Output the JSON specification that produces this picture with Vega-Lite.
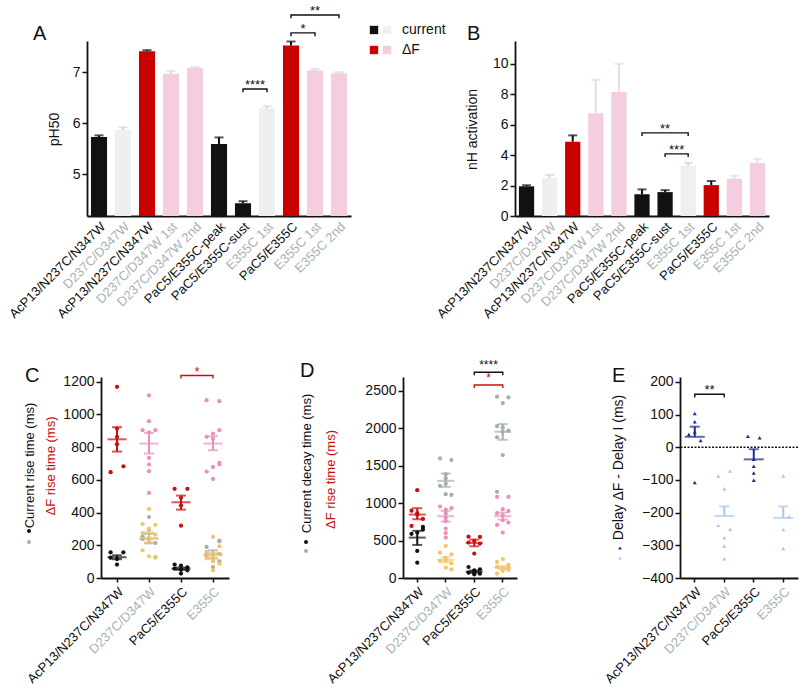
{
"$schema": "https://vega.github.io/schema/vega-lite/v6.json",
"autosize": {"type": "pad"},
"padding": {"left": 7, "top": 4, "right": 0, "bottom": 0},
"background": "white",
"config": {
  "font": "Liberation Sans",
  "view": {"stroke": null},
  "axis": {"grid": false, "domainColor": "#111111", "domainWidth": 1.8, "tickColor": "#111111", "tickWidth": 1.5, "tickSize": 5, "labelFontSize": 14, "labelColor": "#111111", "labelPadding": 2, "titleFontWeight": "normal", "titleFontSize": 14, "titleColor": "#111111"},
  "axisY": {"titleAngle": 270, "titleAlign": "center", "titleBaseline": "middle", "format": "d", "labelOverlap": false, "tickCount": 20},
  "title": {"fontSize": 20, "fontWeight": "normal", "anchor": "start", "frame": "group", "baseline": "alphabetic", "color": "#111111"},
  "legend": {"labelFontSize": 14, "labelColor": "#111111"}
},
"bounds": "flush",
"spacing": 336,
"resolve": {"scale": {"color": "independent", "fill": "independent", "stroke": "independent"}, "legend": {"color": "independent", "fill": "independent", "stroke": "independent"}},
"vconcat": [
{
"hconcat": [
{
  "width": 264, "height": 175,
  "title": {"text": "A", "dx": -54, "offset": 0, "dy": 39},
  "data": {"values": [
    {"c":"aAcP13/N237C/N347W","v":5.73,"e":5.76,"g":"cur1"},
    {"c":"bD237C/D347W","v":5.87,"e":5.92,"g":"cur2"},
    {"c":"cAcP13/N237C/N347W","v":7.41,"e":7.43,"g":"df1"},
    {"c":"dD237C/D347W 1st","v":6.97,"e":7.02,"g":"df2"},
    {"c":"eD237C/D347W 2nd","v":7.08,"e":7.10,"g":"df2"},
    {"c":"fPaC5/E355C-peak","v":5.59,"e":5.72,"g":"cur1"},
    {"c":"gPaC5/E355C-sust","v":4.43,"e":4.47,"g":"cur1"},
    {"c":"hE355C 1st","v":6.29,"e":6.33,"g":"cur2"},
    {"c":"iPaC5/E355C","v":7.52,"e":7.60,"g":"df1"},
    {"c":"jE355C 1st","v":7.03,"e":7.06,"g":"df2"},
    {"c":"kE355C 2nd","v":6.98,"e":7.00,"g":"df2"}
  ]},
  "layer": [
    {"mark": {"type": "bar", "width": {"band": 0.67}},
     "encoding": {
       "x": {"field": "c", "type": "nominal", "scale": {"paddingInner": 0, "paddingOuter": 0},
             "axis": {"title": null, "labelAngle": -45, "labelFontSize": 13, "ticks": false, "labelPadding": 4, "labelExpr": "substring(datum.value,1)",
                      "labelColor": {"condition": {"test": "indexof(datum.value,'AcP13')>=0 || indexof(datum.value,'PaC5')>=0", "value": "#111111"}, "value": "#a8b3b3"}}},
       "y": {"field": "v", "type": "quantitative", "scale": {"domain": [4.18, 7.61], "nice": false, "zero": false},
             "axis": {"values": [5, 6, 7], "tickCount": 20, "labelOverlap": false, "title": "pH50", "titleX": -33, "titleY": 88}},
       "y2": {"datum": 4.18},
       "fill": {"field": "g", "type": "nominal",
                "scale": {"domain": ["cur1","cur2","df1","df2"], "range": ["#111111","#eef0ef","#c80000","#f4cde0"]},
                "legend": {"values": ["cur1","df1"], "labelExpr": "datum.value == 'cur1' ? 'current' : 'ΔF'", "orient": "none", "legendX": 280, "legendY": -18, "title": null, "symbolType": "square", "symbolSize": 70, "labelFontSize": 14, "labelOffset": 21, "rowPadding": 6, "padding": 0, "symbolStrokeWidth": 0}}
     }},
    {"mark": {"type": "rule", "strokeWidth": 2},
     "encoding": {
       "x": {"field": "c", "type": "nominal"},
       "y": {"field": "v", "type": "quantitative"},
       "y2": {"field": "e"},
       "color": {"field": "g", "type": "nominal", "scale": {"domain": ["cur1","cur2","df1","df2"], "range": ["#111111","#d4d6d6","#111111","#dcdcdc"]}, "legend": null}
     }},
    {"mark": {"type": "tick", "size": 9, "thickness": 2},
     "encoding": {
       "x": {"field": "c", "type": "nominal"},
       "y": {"field": "e", "type": "quantitative"},
       "color": {"field": "g", "type": "nominal", "legend": null}
     }},
    {"data": {"values": [
       {"b":1,"o":1,"c":"gPaC5/E355C-sust","y":6.605},{"b":1,"o":2,"c":"gPaC5/E355C-sust","y":6.67},{"b":1,"o":3,"c":"hE355C 1st","y":6.67},{"b":1,"o":4,"c":"hE355C 1st","y":6.605},
       {"b":2,"o":1,"c":"iPaC5/E355C","y":7.705},{"b":2,"o":2,"c":"iPaC5/E355C","y":7.77},{"b":2,"o":3,"c":"jE355C 1st","y":7.77},{"b":2,"o":4,"c":"jE355C 1st","y":7.705},
       {"b":3,"o":1,"c":"iPaC5/E355C","y":8.055},{"b":3,"o":2,"c":"iPaC5/E355C","y":8.12},{"b":3,"o":3,"c":"kE355C 2nd","y":8.12},{"b":3,"o":4,"c":"kE355C 2nd","y":8.055}
     ]},
     "mark": {"type": "line", "color": "#111111", "strokeWidth": 1.4},
     "encoding": {
       "x": {"field": "c", "type": "nominal"},
       "y": {"field": "y", "type": "quantitative"},
       "order": {"field": "o", "type": "quantitative"},
       "detail": {"field": "b", "type": "nominal"}
     }},
    {"data": {"values": [{"c":"gPaC5/E355C-sust","y":6.67,"t":"****"},{"c":"iPaC5/E355C","y":7.77,"t":"*"}]},
     "mark": {"type": "text", "fontSize": 13, "baseline": "alphabetic", "color": "#111111"},
     "encoding": {"x": {"field": "c", "type": "nominal", "bandPosition": 1}, "y": {"field": "y", "type": "quantitative"}, "text": {"field": "t"}}},
    {"data": {"values": [{"c":"jE355C 1st","y":8.12,"t":"**"}]},
     "mark": {"type": "text", "fontSize": 13, "baseline": "alphabetic", "color": "#111111"},
     "encoding": {"x": {"field": "c", "type": "nominal"}, "y": {"field": "y", "type": "quantitative"}, "text": {"field": "t"}}}
  ]
},
{
  "width": 254, "height": 175,
  "title": {"text": "B", "dx": -48, "offset": 1, "dy": 22},
  "data": {"values": [
    {"c":"aAcP13/N237C/N347W","v":1.95,"e":2.02,"g":"cur1"},
    {"c":"bD237C/D347W","v":2.5,"e":2.7,"g":"cur2"},
    {"c":"cAcP13/N237C/N347W","v":4.88,"e":5.3,"g":"df1"},
    {"c":"dD237C/D347W 1st","v":6.75,"e":8.95,"g":"df2"},
    {"c":"eD237C/D347W 2nd","v":8.15,"e":10.0,"g":"df2"},
    {"c":"fPaC5/E355C-peak","v":1.43,"e":1.75,"g":"cur1"},
    {"c":"gPaC5/E355C-sust","v":1.57,"e":1.7,"g":"cur1"},
    {"c":"hE355C 1st","v":3.3,"e":3.5,"g":"cur2"},
    {"c":"iPaC5/E355C","v":2.03,"e":2.3,"g":"df1"},
    {"c":"jE355C 1st","v":2.45,"e":2.65,"g":"df2"},
    {"c":"kE355C 2nd","v":3.49,"e":3.75,"g":"df2"}
  ]},
  "layer": [
    {"mark": {"type": "bar", "width": {"band": 0.66}},
     "encoding": {
       "x": {"field": "c", "type": "nominal", "scale": {"paddingInner": 0, "paddingOuter": 0},
             "axis": {"title": null, "labelAngle": -45, "labelFontSize": 13, "ticks": false, "labelPadding": 4, "labelExpr": "substring(datum.value,1)",
                      "labelColor": {"condition": {"test": "indexof(datum.value,'AcP13')>=0 || indexof(datum.value,'PaC5')>=0", "value": "#111111"}, "value": "#a8b3b3"}}},
       "y": {"field": "v", "type": "quantitative", "scale": {"domain": [0, 11.5], "nice": false},
             "axis": {"values": [0, 2, 4, 6, 8, 10], "tickCount": 20, "labelOverlap": false, "title": "nH activation", "titleX": -43, "titleY": 88}},
       "fill": {"field": "g", "type": "nominal",
                "scale": {"domain": ["cur1","cur2","df1","df2"], "range": ["#111111","#eef0ef","#c80000","#f4cde0"]},
                "legend": {"values": ["cur2","df2"], "labelExpr": "''", "orient": "none", "legendX": -135, "legendY": -18, "title": null, "symbolType": "square", "symbolSize": 70, "labelFontSize": 14, "rowPadding": 6, "padding": 0, "symbolStrokeWidth": 0}}
     }},
    {"mark": {"type": "rule", "strokeWidth": 2},
     "encoding": {
       "x": {"field": "c", "type": "nominal"},
       "y": {"field": "v", "type": "quantitative"},
       "y2": {"field": "e"},
       "color": {"field": "g", "type": "nominal", "scale": {"domain": ["cur1","cur2","df1","df2"], "range": ["#111111","#d4d6d6","#111111","#e2dde0"]}, "legend": null}
     }},
    {"mark": {"type": "tick", "size": 9, "thickness": 2},
     "encoding": {
       "x": {"field": "c", "type": "nominal"},
       "y": {"field": "e", "type": "quantitative"},
       "color": {"field": "g", "type": "nominal", "legend": null}
     }},
    {"data": {"values": [
       {"b":1,"o":1,"c":"fPaC5/E355C-peak","y":5.26},{"b":1,"o":2,"c":"fPaC5/E355C-peak","y":5.46},{"b":1,"o":3,"c":"hE355C 1st","y":5.46},{"b":1,"o":4,"c":"hE355C 1st","y":5.26},
       {"b":2,"o":1,"c":"gPaC5/E355C-sust","y":3.88},{"b":2,"o":2,"c":"gPaC5/E355C-sust","y":4.08},{"b":2,"o":3,"c":"hE355C 1st","y":4.08},{"b":2,"o":4,"c":"hE355C 1st","y":3.88}
     ]},
     "mark": {"type": "line", "color": "#111111", "strokeWidth": 1.4},
     "encoding": {
       "x": {"field": "c", "type": "nominal"},
       "y": {"field": "y", "type": "quantitative"},
       "order": {"field": "o", "type": "quantitative"},
       "detail": {"field": "b", "type": "nominal"}
     }},
    {"data": {"values": [{"c":"gPaC5/E355C-sust","y":5.46,"t":"**"}]},
     "mark": {"type": "text", "fontSize": 13, "baseline": "alphabetic", "color": "#111111"},
     "encoding": {"x": {"field": "c", "type": "nominal"}, "y": {"field": "y", "type": "quantitative"}, "text": {"field": "t"}}},
    {"data": {"values": [{"c":"gPaC5/E355C-sust","y":4.08,"t":"***"}]},
     "mark": {"type": "text", "fontSize": 13, "baseline": "alphabetic", "color": "#111111"},
     "encoding": {"x": {"field": "c", "type": "nominal", "bandPosition": 1}, "y": {"field": "y", "type": "quantitative"}, "text": {"field": "t"}}}
  ]
}
],
"spacing": 164, "bounds": "flush",
"resolve": {"scale": {"color": "independent", "fill": "independent"}, "legend": {"color": "independent", "fill": "independent"}}
},
{
"hconcat": [
{
  "width": 1, "height": 1,
  "data": {"values": [{}]},
  "mark": {"type": "point", "opacity": 0},
  "encoding": {}
},
{
"hconcat": [
{
  "width": 128, "height": 201,
  "title": {"text": "C", "dx": -76, "offset": -3, "dy": 17},
  "data": {"values": [
    {"c":"AcP13/N237C/N347W","g":"k","v":157,"s":"L"},{"c":"AcP13/N237C/N347W","g":"k","v":157,"s":"R"},{"c":"AcP13/N237C/N347W","g":"k","v":124,"s":"L"},{"c":"AcP13/N237C/N347W","g":"k","v":116,"s":"M"},{"c":"AcP13/N237C/N347W","g":"k","v":82,"s":"M"},
    {"c":"AcP13/N237C/N347W","g":"r","v":1169,"s":"M"},{"c":"AcP13/N237C/N347W","g":"r","v":914,"s":"M"},{"c":"AcP13/N237C/N347W","g":"r","v":863,"s":"M"},{"c":"AcP13/N237C/N347W","g":"r","v":818,"s":"M"},{"c":"AcP13/N237C/N347W","g":"r","v":683,"s":"R"},{"c":"AcP13/N237C/N347W","g":"r","v":647,"s":"L"},
    {"c":"D237C/D347W","g":"gr","v":373,"s":"M"},{"c":"D237C/D347W","g":"gr","v":296,"s":"M"},{"c":"D237C/D347W","g":"gr","v":255,"s":"L"},{"c":"D237C/D347W","g":"gr","v":239,"s":"L"},{"c":"D237C/D347W","g":"gr","v":214,"s":"R"},{"c":"D237C/D347W","g":"gr","v":128,"s":"R"},
    {"c":"D237C/D347W","g":"o","v":422,"s":"M"},{"c":"D237C/D347W","g":"o","v":330,"s":"L"},{"c":"D237C/D347W","g":"o","v":325,"s":"R"},{"c":"D237C/D347W","g":"o","v":302,"s":"M"},{"c":"D237C/D347W","g":"o","v":275,"s":"L"},{"c":"D237C/D347W","g":"o","v":265,"s":"R"},{"c":"D237C/D347W","g":"o","v":245,"s":"M"},{"c":"D237C/D347W","g":"o","v":224,"s":"M"},{"c":"D237C/D347W","g":"o","v":169,"s":"L"},{"c":"D237C/D347W","g":"o","v":133,"s":"M"},{"c":"D237C/D347W","g":"o","v":124,"s":"R"},
    {"c":"D237C/D347W","g":"p","v":1116,"s":"M"},{"c":"D237C/D347W","g":"p","v":959,"s":"M"},{"c":"D237C/D347W","g":"p","v":904,"s":"L"},{"c":"D237C/D347W","g":"p","v":904,"s":"R"},{"c":"D237C/D347W","g":"p","v":890,"s":"M"},{"c":"D237C/D347W","g":"p","v":734,"s":"M"},{"c":"D237C/D347W","g":"p","v":694,"s":"M"},{"c":"D237C/D347W","g":"p","v":653,"s":"M"},{"c":"D237C/D347W","g":"p","v":520,"s":"M"},
    {"c":"PaC5/E355C","g":"r","v":545,"s":"L"},{"c":"PaC5/E355C","g":"r","v":545,"s":"R"},{"c":"PaC5/E355C","g":"r","v":490,"s":"M"},{"c":"PaC5/E355C","g":"r","v":443,"s":"M"},{"c":"PaC5/E355C","g":"r","v":320,"s":"M"},
    {"c":"PaC5/E355C","g":"k","v":82,"s":"L"},{"c":"PaC5/E355C","g":"k","v":75,"s":"M"},{"c":"PaC5/E355C","g":"k","v":65,"s":"R"},{"c":"PaC5/E355C","g":"k","v":57,"s":"L"},{"c":"PaC5/E355C","g":"k","v":50,"s":"M"},{"c":"PaC5/E355C","g":"k","v":47,"s":"R"},{"c":"PaC5/E355C","g":"k","v":27,"s":"M"},
    {"c":"E355C","g":"gr","v":228,"s":"R"},{"c":"E355C","g":"gr","v":224,"s":"R"},{"c":"E355C","g":"gr","v":190,"s":"L"},{"c":"E355C","g":"gr","v":133,"s":"L"},{"c":"E355C","g":"gr","v":102,"s":"R"},{"c":"E355C","g":"gr","v":67,"s":"M"},
    {"c":"E355C","g":"o","v":251,"s":"M"},{"c":"E355C","g":"o","v":194,"s":"R"},{"c":"E355C","g":"o","v":159,"s":"L"},{"c":"E355C","g":"o","v":147,"s":"R"},{"c":"E355C","g":"o","v":133,"s":"M"},{"c":"E355C","g":"o","v":120,"s":"L"},{"c":"E355C","g":"o","v":112,"s":"M"},{"c":"E355C","g":"o","v":102,"s":"M"},{"c":"E355C","g":"o","v":88,"s":"R"},{"c":"E355C","g":"o","v":47,"s":"M"},
    {"c":"E355C","g":"p","v":1087,"s":"L"},{"c":"E355C","g":"p","v":1081,"s":"R"},{"c":"E355C","g":"p","v":904,"s":"R"},{"c":"E355C","g":"p","v":883,"s":"M"},{"c":"E355C","g":"p","v":863,"s":"L"},{"c":"E355C","g":"p","v":851,"s":"M"},{"c":"E355C","g":"p","v":704,"s":"R"},{"c":"E355C","g":"p","v":694,"s":"R"},{"c":"E355C","g":"p","v":679,"s":"M"},{"c":"E355C","g":"p","v":651,"s":"L"},{"c":"E355C","g":"p","v":606,"s":"M"}
  ]},
  "layer": [
      {"transform": [{"filter": "datum.s == 'M'"}],
       "mark": {"type": "point", "filled": true, "size": 18, "opacity": 1},
       "encoding": {
         "x": {"field": "c", "type": "nominal", "sort": ["AcP13/N237C/N347W","D237C/D347W","PaC5/E355C","E355C"], "scale": {"paddingInner": 0, "paddingOuter": 0},
               "axis": {"labelAngle": -45, "labelFontSize": 13, "ticks": true, "tickSize": 4, "labelPadding": 3,
                        "title": "ΔF rise time (ms)", "titleColor": "#c80f0f", "titleFontSize": 13, "titleAngle": 270, "titleAlign": "center", "titleBaseline": "middle", "titleX": -51, "titleY": -112.5,
                        "labelColor": {"condition": {"test": "indexof(datum.value,'AcP13')>=0 || indexof(datum.value,'PaC5')>=0", "value": "#111111"}, "value": "#a8b3b3"}}},
         "y": {"field": "v", "type": "quantitative", "scale": {"domain": [0, 1229], "nice": false},
               "axis": {"values": [0,200,400,600,800,1000,1200], "tickCount": 20, "labelOverlap": false, "title": "Current rise time (ms)", "titleFontSize": 13, "titleX": -72, "titleY": 88}},
         "color": {"field": "g", "type": "nominal", "scale": {"domain": ["k","gr","r","p","o"], "range": ["#111111","#a4afad","#c80f0f","#e891bd","#f3c56b"]},
                   "legend": {"values": ["k","gr"], "labelExpr": "''", "orient": "none", "legendX": -74, "legendY": 152, "title": null, "symbolType": "circle", "symbolSize": 16, "labelFontSize": 4, "rowPadding": 7, "padding": 0, "symbolStrokeWidth": 0}}
       }},
      {"transform": [{"filter": "datum.s == 'L'"}],
       "mark": {"type": "point", "filled": true, "size": 18, "opacity": 1},
       "encoding": {"x": {"field": "c", "type": "nominal", "bandPosition": 0.3, "sort": ["AcP13/N237C/N347W","D237C/D347W","PaC5/E355C","E355C"]}, "y": {"field": "v", "type": "quantitative"}, "color": {"field": "g", "type": "nominal"}}},
      {"transform": [{"filter": "datum.s == 'R'"}],
       "mark": {"type": "point", "filled": true, "size": 18, "opacity": 1},
       "encoding": {"x": {"field": "c", "type": "nominal", "bandPosition": 0.7, "sort": ["AcP13/N237C/N347W","D237C/D347W","PaC5/E355C","E355C"]}, "y": {"field": "v", "type": "quantitative"}, "color": {"field": "g", "type": "nominal"}}},
      {"data": {"values": [
         {"c":"AcP13/N237C/N347W","g":"k","m":127,"lo":115,"hi":139},
         {"c":"AcP13/N237C/N347W","g":"r","m":848,"lo":773,"hi":922},
         {"c":"D237C/D347W","g":"gr","m":240,"lo":212,"hi":270},
         {"c":"D237C/D347W","g":"o","m":245,"lo":218,"hi":280},
         {"c":"D237C/D347W","g":"p","m":822,"lo":761,"hi":887},
         {"c":"PaC5/E355C","g":"k","m":57,"lo":50,"hi":64},
         {"c":"PaC5/E355C","g":"r","m":463,"lo":418,"hi":504},
         {"c":"E355C","g":"gr","m":145,"lo":120,"hi":170},
         {"c":"E355C","g":"o","m":139,"lo":120,"hi":157},
         {"c":"E355C","g":"p","m":822,"lo":781,"hi":867}
       ]},
       "mark": {"type": "rule", "strokeWidth": 2},
       "encoding": {"x": {"field": "c", "type": "nominal", "sort": ["AcP13/N237C/N347W","D237C/D347W","PaC5/E355C","E355C"]}, "y": {"field": "lo", "type": "quantitative"}, "y2": {"field": "hi"},
                    "stroke": {"field": "g", "type": "nominal", "scale": {"domain": ["k","gr","r","p","o"], "range": ["#111111","#a4afad","#c80f0f","#e891bd","#f3c56b"]},
                               "legend": {"values": ["r","p","o"], "labelExpr": "''", "orient": "none", "legendX": -53.5, "legendY": 138.5, "title": null, "symbolType": "circle", "symbolSize": 5, "symbolStrokeWidth": 3, "labelFontSize": 4, "rowPadding": 6, "padding": 0}}}},
      {"data": {"values": [
         {"c":"AcP13/N237C/N347W","g":"k","m":127,"lo":115,"hi":139},
         {"c":"AcP13/N237C/N347W","g":"r","m":848,"lo":773,"hi":922},
         {"c":"D237C/D347W","g":"gr","m":240,"lo":212,"hi":270},
         {"c":"D237C/D347W","g":"o","m":245,"lo":218,"hi":280},
         {"c":"D237C/D347W","g":"p","m":822,"lo":761,"hi":887},
         {"c":"PaC5/E355C","g":"k","m":57,"lo":50,"hi":64},
         {"c":"PaC5/E355C","g":"r","m":463,"lo":418,"hi":504},
         {"c":"E355C","g":"gr","m":145,"lo":120,"hi":170},
         {"c":"E355C","g":"o","m":139,"lo":120,"hi":157},
         {"c":"E355C","g":"p","m":822,"lo":781,"hi":867}
       ]},
       "mark": {"type": "tick", "size": 10, "thickness": 2},
       "encoding": {"x": {"field": "c", "type": "nominal", "sort": ["AcP13/N237C/N347W","D237C/D347W","PaC5/E355C","E355C"]}, "y": {"field": "lo", "type": "quantitative"}, "color": {"field": "g", "type": "nominal"}}},
      {"data": {"values": [
         {"c":"AcP13/N237C/N347W","g":"k","m":127,"lo":115,"hi":139},
         {"c":"AcP13/N237C/N347W","g":"r","m":848,"lo":773,"hi":922},
         {"c":"D237C/D347W","g":"gr","m":240,"lo":212,"hi":270},
         {"c":"D237C/D347W","g":"o","m":245,"lo":218,"hi":280},
         {"c":"D237C/D347W","g":"p","m":822,"lo":761,"hi":887},
         {"c":"PaC5/E355C","g":"k","m":57,"lo":50,"hi":64},
         {"c":"PaC5/E355C","g":"r","m":463,"lo":418,"hi":504},
         {"c":"E355C","g":"gr","m":145,"lo":120,"hi":170},
         {"c":"E355C","g":"o","m":139,"lo":120,"hi":157},
         {"c":"E355C","g":"p","m":822,"lo":781,"hi":867}
       ]},
       "mark": {"type": "tick", "size": 10, "thickness": 2},
       "encoding": {"x": {"field": "c", "type": "nominal", "sort": ["AcP13/N237C/N347W","D237C/D347W","PaC5/E355C","E355C"]}, "y": {"field": "hi", "type": "quantitative"}, "color": {"field": "g", "type": "nominal"}}},
      {"data": {"values": [
         {"c":"AcP13/N237C/N347W","g":"k","m":127,"lo":115,"hi":139},
         {"c":"AcP13/N237C/N347W","g":"r","m":848,"lo":773,"hi":922},
         {"c":"D237C/D347W","g":"gr","m":240,"lo":212,"hi":270},
         {"c":"D237C/D347W","g":"o","m":245,"lo":218,"hi":280},
         {"c":"D237C/D347W","g":"p","m":822,"lo":761,"hi":887},
         {"c":"PaC5/E355C","g":"k","m":57,"lo":50,"hi":64},
         {"c":"PaC5/E355C","g":"r","m":463,"lo":418,"hi":504},
         {"c":"E355C","g":"gr","m":145,"lo":120,"hi":170},
         {"c":"E355C","g":"o","m":139,"lo":120,"hi":157},
         {"c":"E355C","g":"p","m":822,"lo":781,"hi":867}
       ]},
       "mark": {"type": "tick", "size": 19, "thickness": 2},
       "encoding": {"x": {"field": "c", "type": "nominal", "sort": ["AcP13/N237C/N347W","D237C/D347W","PaC5/E355C","E355C"]}, "y": {"field": "m", "type": "quantitative"}, "color": {"field": "g", "type": "nominal"}}},
      {"data": {"values": [
         {"b":1,"o":1,"c":"PaC5/E355C","y":1220,"g":"r"},{"b":1,"o":2,"c":"PaC5/E355C","y":1238,"g":"r"},{"b":1,"o":3,"c":"E355C","y":1238,"g":"r"},{"b":1,"o":4,"c":"E355C","y":1220,"g":"r"}
       ]},
       "mark": {"type": "line", "strokeWidth": 1.4},
       "encoding": {"x": {"field": "c", "type": "nominal", "sort": ["AcP13/N237C/N347W","D237C/D347W","PaC5/E355C","E355C"]}, "y": {"field": "y", "type": "quantitative"}, "order": {"field": "o", "type": "quantitative"}, "detail": {"field": "b", "type": "nominal"}, "color": {"field": "g", "type": "nominal"}}},
      {"data": {"values": [{"c":"PaC5/E355C","y":1238,"t":"*","g":"r"}]},
       "mark": {"type": "text", "fontSize": 13, "baseline": "alphabetic"},
       "encoding": {"x": {"field": "c", "type": "nominal", "bandPosition": 1, "sort": ["AcP13/N237C/N347W","D237C/D347W","PaC5/E355C","E355C"]}, "y": {"field": "y", "type": "quantitative"}, "text": {"field": "t"}, "color": {"field": "g", "type": "nominal"}}}
  ]
},
{
"hconcat": [
{
  "width": 114, "height": 201,
  "title": {"text": "D", "dx": -103, "offset": -4, "dy": 18},
  "data": {"values": [
    {"c":"AcP13/N237C/N347W","g":"k","v":683,"s":"R"},{"c":"AcP13/N237C/N347W","g":"k","v":647,"s":"R"},{"c":"AcP13/N237C/N347W","g":"k","v":607,"s":"M"},{"c":"AcP13/N237C/N347W","g":"k","v":590,"s":"L"},{"c":"AcP13/N237C/N347W","g":"k","v":362,"s":"M"},{"c":"AcP13/N237C/N347W","g":"k","v":205,"s":"M"},
    {"c":"AcP13/N237C/N347W","g":"r","v":1174,"s":"M"},{"c":"AcP13/N237C/N347W","g":"r","v":900,"s":"L"},{"c":"AcP13/N237C/N347W","g":"r","v":866,"s":"M"},{"c":"AcP13/N237C/N347W","g":"r","v":845,"s":"M"},{"c":"AcP13/N237C/N347W","g":"r","v":790,"s":"R"},{"c":"AcP13/N237C/N347W","g":"r","v":696,"s":"L"},
    {"c":"D237C/D347W","g":"gr","v":1598,"s":"L"},{"c":"D237C/D347W","g":"gr","v":1576,"s":"R"},{"c":"D237C/D347W","g":"gr","v":1388,"s":"M"},{"c":"D237C/D347W","g":"gr","v":1335,"s":"M"},{"c":"D237C/D347W","g":"gr","v":1263,"s":"M"},{"c":"D237C/D347W","g":"gr","v":1232,"s":"L"},{"c":"D237C/D347W","g":"gr","v":1120,"s":"M"},{"c":"D237C/D347W","g":"gr","v":1110,"s":"R"},
    {"c":"D237C/D347W","g":"p","v":955,"s":"L"},{"c":"D237C/D347W","g":"p","v":933,"s":"R"},{"c":"D237C/D347W","g":"p","v":915,"s":"M"},{"c":"D237C/D347W","g":"p","v":866,"s":"M"},{"c":"D237C/D347W","g":"p","v":808,"s":"M"},{"c":"D237C/D347W","g":"p","v":763,"s":"M"},{"c":"D237C/D347W","g":"p","v":661,"s":"M"},{"c":"D237C/D347W","g":"p","v":600,"s":"M"},{"c":"D237C/D347W","g":"p","v":540,"s":"M"},
    {"c":"D237C/D347W","g":"o","v":429,"s":"M"},{"c":"D237C/D347W","g":"o","v":339,"s":"L"},{"c":"D237C/D347W","g":"o","v":317,"s":"R"},{"c":"D237C/D347W","g":"o","v":272,"s":"M"},{"c":"D237C/D347W","g":"o","v":246,"s":"M"},{"c":"D237C/D347W","g":"o","v":228,"s":"L"},{"c":"D237C/D347W","g":"o","v":196,"s":"R"},{"c":"D237C/D347W","g":"o","v":138,"s":"M"},{"c":"D237C/D347W","g":"o","v":116,"s":"R"},
    {"c":"PaC5/E355C","g":"r","v":553,"s":"L"},{"c":"PaC5/E355C","g":"r","v":549,"s":"R"},{"c":"PaC5/E355C","g":"r","v":496,"s":"M"},{"c":"PaC5/E355C","g":"r","v":473,"s":"L"},{"c":"PaC5/E355C","g":"r","v":460,"s":"R"},{"c":"PaC5/E355C","g":"r","v":326,"s":"M"},
    {"c":"PaC5/E355C","g":"k","v":147,"s":"L"},{"c":"PaC5/E355C","g":"k","v":116,"s":"R"},{"c":"PaC5/E355C","g":"k","v":103,"s":"M"},{"c":"PaC5/E355C","g":"k","v":85,"s":"M"},{"c":"PaC5/E355C","g":"k","v":71,"s":"L"},{"c":"PaC5/E355C","g":"k","v":58,"s":"R"},{"c":"PaC5/E355C","g":"k","v":49,"s":"M"},
    {"c":"E355C","g":"gr","v":2424,"s":"L"},{"c":"E355C","g":"gr","v":2415,"s":"R"},{"c":"E355C","g":"gr","v":2339,"s":"M"},{"c":"E355C","g":"gr","v":2030,"s":"L"},{"c":"E355C","g":"gr","v":2013,"s":"M"},{"c":"E355C","g":"gr","v":1969,"s":"R"},{"c":"E355C","g":"gr","v":1955,"s":"M"},{"c":"E355C","g":"gr","v":1880,"s":"L"},{"c":"E355C","g":"gr","v":1643,"s":"M"},{"c":"E355C","g":"gr","v":1152,"s":"L"},
    {"c":"E355C","g":"p","v":1085,"s":"L"},{"c":"E355C","g":"p","v":1085,"s":"R"},{"c":"E355C","g":"p","v":920,"s":"M"},{"c":"E355C","g":"p","v":897,"s":"R"},{"c":"E355C","g":"p","v":866,"s":"L"},{"c":"E355C","g":"p","v":839,"s":"M"},{"c":"E355C","g":"p","v":772,"s":"M"},{"c":"E355C","g":"p","v":741,"s":"R"},{"c":"E355C","g":"p","v":710,"s":"L"},{"c":"E355C","g":"p","v":607,"s":"M"},
    {"c":"E355C","g":"o","v":254,"s":"M"},{"c":"E355C","g":"o","v":214,"s":"L"},{"c":"E355C","g":"o","v":174,"s":"R"},{"c":"E355C","g":"o","v":152,"s":"L"},{"c":"E355C","g":"o","v":138,"s":"M"},{"c":"E355C","g":"o","v":130,"s":"R"},{"c":"E355C","g":"o","v":125,"s":"M"},{"c":"E355C","g":"o","v":107,"s":"R"},{"c":"E355C","g":"o","v":94,"s":"M"},{"c":"E355C","g":"o","v":58,"s":"L"}
  ]},
  "layer": [
      {"transform": [{"filter": "datum.s == 'M'"}],
       "mark": {"type": "point", "filled": true, "size": 18, "opacity": 1},
       "encoding": {
         "x": {"field": "c", "type": "nominal", "sort": ["AcP13/N237C/N347W","D237C/D347W","PaC5/E355C","E355C"], "scale": {"paddingInner": 0, "paddingOuter": 0},
               "axis": {"labelAngle": -45, "labelFontSize": 13, "ticks": true, "tickSize": 4, "labelPadding": 3,
                        "title": "ΔF rise time (ms)", "titleColor": "#c80f0f", "titleFontSize": 13, "titleAngle": 270, "titleAlign": "center", "titleBaseline": "middle", "titleX": -73, "titleY": -99,
                        "labelColor": {"condition": {"test": "indexof(datum.value,'AcP13')>=0 || indexof(datum.value,'PaC5')>=0", "value": "#111111"}, "value": "#a8b3b3"}}},
         "y": {"field": "v", "type": "quantitative", "scale": {"domain": [0, 2687], "nice": false},
               "axis": {"values": [0,500,1000,1500,2000,2500], "tickCount": 20, "labelOverlap": false, "title": "Current decay time (ms)", "titleFontSize": 13, "titleX": -97, "titleY": 86}},
         "color": {"field": "g", "type": "nominal", "scale": {"domain": ["k","gr","r","p","o"], "range": ["#111111","#a4afad","#c80f0f","#e891bd","#f3c56b"]},
                   "legend": {"values": ["k","gr"], "labelExpr": "''", "orient": "none", "legendX": -99, "legendY": 163, "title": null, "symbolType": "circle", "symbolSize": 16, "labelFontSize": 4, "rowPadding": 5, "padding": 0, "symbolStrokeWidth": 0}}
       }},
      {"transform": [{"filter": "datum.s == 'L'"}],
       "mark": {"type": "point", "filled": true, "size": 18, "opacity": 1},
       "encoding": {"x": {"field": "c", "type": "nominal", "bandPosition": 0.3, "sort": ["AcP13/N237C/N347W","D237C/D347W","PaC5/E355C","E355C"]}, "y": {"field": "v", "type": "quantitative"}, "color": {"field": "g", "type": "nominal"}}},
      {"transform": [{"filter": "datum.s == 'R'"}],
       "mark": {"type": "point", "filled": true, "size": 18, "opacity": 1},
       "encoding": {"x": {"field": "c", "type": "nominal", "bandPosition": 0.7, "sort": ["AcP13/N237C/N347W","D237C/D347W","PaC5/E355C","E355C"]}, "y": {"field": "v", "type": "quantitative"}, "color": {"field": "g", "type": "nominal"}}},
      {"data": {"values": [
         {"c":"AcP13/N237C/N347W","g":"k","m":540,"lo":442,"hi":630},
         {"c":"AcP13/N237C/N347W","g":"r","m":848,"lo":786,"hi":933},
         {"c":"D237C/D347W","g":"gr","m":1299,"lo":1219,"hi":1397},
         {"c":"D237C/D347W","g":"p","m":826,"lo":754,"hi":897},
         {"c":"D237C/D347W","g":"o","m":241,"lo":210,"hi":275},
         {"c":"PaC5/E355C","g":"r","m":469,"lo":424,"hi":513},
         {"c":"PaC5/E355C","g":"k","m":85,"lo":70,"hi":100},
         {"c":"E355C","g":"gr","m":1955,"lo":1848,"hi":2058},
         {"c":"E355C","g":"p","m":826,"lo":781,"hi":875},
         {"c":"E355C","g":"o","m":138,"lo":120,"hi":155}
       ]},
       "mark": {"type": "rule", "strokeWidth": 2},
       "encoding": {"x": {"field": "c", "type": "nominal", "sort": ["AcP13/N237C/N347W","D237C/D347W","PaC5/E355C","E355C"]}, "y": {"field": "lo", "type": "quantitative"}, "y2": {"field": "hi"},
                    "stroke": {"field": "g", "type": "nominal", "scale": {"domain": ["k","gr","r","p","o"], "range": ["#111111","#a4afad","#c80f0f","#e891bd","#f3c56b"]},
                               "legend": {"values": ["r","p","o"], "labelExpr": "''", "orient": "none", "legendX": -75.5, "legendY": 158.5, "title": null, "symbolType": "circle", "symbolSize": 5, "symbolStrokeWidth": 3, "labelFontSize": 4, "rowPadding": 4, "padding": 0}}}},
      {"data": {"values": [
         {"c":"AcP13/N237C/N347W","g":"k","m":540,"lo":442,"hi":630},
         {"c":"AcP13/N237C/N347W","g":"r","m":848,"lo":786,"hi":933},
         {"c":"D237C/D347W","g":"gr","m":1299,"lo":1219,"hi":1397},
         {"c":"D237C/D347W","g":"p","m":826,"lo":754,"hi":897},
         {"c":"D237C/D347W","g":"o","m":241,"lo":210,"hi":275},
         {"c":"PaC5/E355C","g":"r","m":469,"lo":424,"hi":513},
         {"c":"PaC5/E355C","g":"k","m":85,"lo":70,"hi":100},
         {"c":"E355C","g":"gr","m":1955,"lo":1848,"hi":2058},
         {"c":"E355C","g":"p","m":826,"lo":781,"hi":875},
         {"c":"E355C","g":"o","m":138,"lo":120,"hi":155}
       ]},
       "mark": {"type": "tick", "size": 10, "thickness": 2},
       "encoding": {"x": {"field": "c", "type": "nominal", "sort": ["AcP13/N237C/N347W","D237C/D347W","PaC5/E355C","E355C"]}, "y": {"field": "lo", "type": "quantitative"}, "color": {"field": "g", "type": "nominal"}}},
      {"data": {"values": [
         {"c":"AcP13/N237C/N347W","g":"k","m":540,"lo":442,"hi":630},
         {"c":"AcP13/N237C/N347W","g":"r","m":848,"lo":786,"hi":933},
         {"c":"D237C/D347W","g":"gr","m":1299,"lo":1219,"hi":1397},
         {"c":"D237C/D347W","g":"p","m":826,"lo":754,"hi":897},
         {"c":"D237C/D347W","g":"o","m":241,"lo":210,"hi":275},
         {"c":"PaC5/E355C","g":"r","m":469,"lo":424,"hi":513},
         {"c":"PaC5/E355C","g":"k","m":85,"lo":70,"hi":100},
         {"c":"E355C","g":"gr","m":1955,"lo":1848,"hi":2058},
         {"c":"E355C","g":"p","m":826,"lo":781,"hi":875},
         {"c":"E355C","g":"o","m":138,"lo":120,"hi":155}
       ]},
       "mark": {"type": "tick", "size": 10, "thickness": 2},
       "encoding": {"x": {"field": "c", "type": "nominal", "sort": ["AcP13/N237C/N347W","D237C/D347W","PaC5/E355C","E355C"]}, "y": {"field": "hi", "type": "quantitative"}, "color": {"field": "g", "type": "nominal"}}},
      {"data": {"values": [
         {"c":"AcP13/N237C/N347W","g":"k","m":540,"lo":442,"hi":630},
         {"c":"AcP13/N237C/N347W","g":"r","m":848,"lo":786,"hi":933},
         {"c":"D237C/D347W","g":"gr","m":1299,"lo":1219,"hi":1397},
         {"c":"D237C/D347W","g":"p","m":826,"lo":754,"hi":897},
         {"c":"D237C/D347W","g":"o","m":241,"lo":210,"hi":275},
         {"c":"PaC5/E355C","g":"r","m":469,"lo":424,"hi":513},
         {"c":"PaC5/E355C","g":"k","m":85,"lo":70,"hi":100},
         {"c":"E355C","g":"gr","m":1955,"lo":1848,"hi":2058},
         {"c":"E355C","g":"p","m":826,"lo":781,"hi":875},
         {"c":"E355C","g":"o","m":138,"lo":120,"hi":155}
       ]},
       "mark": {"type": "tick", "size": 17, "thickness": 2},
       "encoding": {"x": {"field": "c", "type": "nominal", "sort": ["AcP13/N237C/N347W","D237C/D347W","PaC5/E355C","E355C"]}, "y": {"field": "m", "type": "quantitative"}, "color": {"field": "g", "type": "nominal"}}},
      {"data": {"values": [
         {"b":1,"o":1,"c":"PaC5/E355C","y":2710,"g":"k"},{"b":1,"o":2,"c":"PaC5/E355C","y":2750,"g":"k"},{"b":1,"o":3,"c":"E355C","y":2750,"g":"k"},{"b":1,"o":4,"c":"E355C","y":2710,"g":"k"},
         {"b":2,"o":1,"c":"PaC5/E355C","y":2540,"g":"r"},{"b":2,"o":2,"c":"PaC5/E355C","y":2580,"g":"r"},{"b":2,"o":3,"c":"E355C","y":2580,"g":"r"},{"b":2,"o":4,"c":"E355C","y":2540,"g":"r"}
       ]},
       "mark": {"type": "line", "strokeWidth": 1.4},
       "encoding": {"x": {"field": "c", "type": "nominal", "sort": ["AcP13/N237C/N347W","D237C/D347W","PaC5/E355C","E355C"]}, "y": {"field": "y", "type": "quantitative"}, "order": {"field": "o", "type": "quantitative"}, "detail": {"field": "b", "type": "nominal"}, "color": {"field": "g", "type": "nominal"}}},
      {"data": {"values": [{"c":"PaC5/E355C","y":2750,"t":"****","g":"k"},{"c":"PaC5/E355C","y":2580,"t":"*","g":"r"}]},
       "mark": {"type": "text", "fontSize": 12, "baseline": "bottom"},
       "encoding": {"x": {"field": "c", "type": "nominal", "bandPosition": 1, "sort": ["AcP13/N237C/N347W","D237C/D347W","PaC5/E355C","E355C"]}, "y": {"field": "y", "type": "quantitative"}, "text": {"field": "t"}, "color": {"field": "g", "type": "nominal"}}}
  ]
},
{
  "width": 118, "height": 201,
  "title": {"text": "E", "dx": -68, "offset": -4, "dy": 7},
  "data": {"values": [
    {"c":"AcP13/N237C/N347W","g":"db","v":103,"s":"M"},{"c":"AcP13/N237C/N347W","g":"db","v":78,"s":"M"},{"c":"AcP13/N237C/N347W","g":"db","v":47,"s":"M"},{"c":"AcP13/N237C/N347W","g":"db","v":39,"s":"L"},{"c":"AcP13/N237C/N347W","g":"db","v":21,"s":"R"},{"c":"AcP13/N237C/N347W","g":"db","v":-108,"s":"M"},
    {"c":"D237C/D347W","g":"lb","v":-73,"s":"R"},{"c":"D237C/D347W","g":"lb","v":-88,"s":"L"},{"c":"D237C/D347W","g":"lb","v":-127,"s":"M"},{"c":"D237C/D347W","g":"lb","v":-239,"s":"L"},{"c":"D237C/D347W","g":"lb","v":-251,"s":"R"},{"c":"D237C/D347W","g":"lb","v":-277,"s":"M"},{"c":"D237C/D347W","g":"lb","v":-302,"s":"M"},{"c":"D237C/D347W","g":"lb","v":-341,"s":"M"},
    {"c":"PaC5/E355C","g":"db","v":34,"s":"L"},{"c":"PaC5/E355C","g":"db","v":29,"s":"R"},{"c":"PaC5/E355C","g":"db","v":-37,"s":"M"},{"c":"PaC5/E355C","g":"db","v":-58,"s":"M"},{"c":"PaC5/E355C","g":"db","v":-79,"s":"M"},{"c":"PaC5/E355C","g":"db","v":-101,"s":"M"},
    {"c":"E355C","g":"lb","v":-88,"s":"M"},{"c":"E355C","g":"lb","v":-213,"s":"R"},{"c":"E355C","g":"lb","v":-252,"s":"M"},{"c":"E355C","g":"lb","v":-310,"s":"M"}
  ]},
  "layer": [
      {"transform": [{"filter": "datum.s == 'M'"}],
       "mark": {"type": "point", "filled": true, "shape": "triangle-up", "size": 16, "opacity": 1},
       "encoding": {
         "x": {"field": "c", "type": "nominal", "sort": ["AcP13/N237C/N347W","D237C/D347W","PaC5/E355C","E355C"], "scale": {"paddingInner": 0, "paddingOuter": 0},
               "axis": {"title": null, "labelAngle": -45, "labelFontSize": 13, "ticks": true, "tickSize": 4, "labelPadding": 3,
                        "labelColor": {"condition": {"test": "indexof(datum.value,'AcP13')>=0 || indexof(datum.value,'PaC5')>=0", "value": "#111111"}, "value": "#a8b3b3"}}},
         "y": {"field": "v", "type": "quantitative", "scale": {"domain": [-400, 215], "nice": false, "zero": false},
               "axis": {"values": [-400,-300,-200,-100,0,100,200], "tickCount": 20, "labelOverlap": false, "title": "Delay ΔF - Delay I (ms)", "titleX": -62, "titleY": 90}},
         "color": {"field": "g", "type": "nominal", "scale": {"domain": ["db","lb","k"], "range": ["#1c2a8c","#a9c6ef","#111111"]},
                   "legend": {"values": ["db","lb"], "labelExpr": "''", "orient": "none", "legendX": -62, "legendY": 169, "title": null, "symbolType": "triangle-up", "symbolSize": 14, "labelFontSize": 4, "rowPadding": 6, "padding": 0, "symbolStrokeWidth": 0}}
       }},
      {"transform": [{"filter": "datum.s == 'L'"}],
       "mark": {"type": "point", "filled": true, "shape": "triangle-up", "size": 16, "opacity": 1},
       "encoding": {"x": {"field": "c", "type": "nominal", "bandPosition": 0.3, "sort": ["AcP13/N237C/N347W","D237C/D347W","PaC5/E355C","E355C"]}, "y": {"field": "v", "type": "quantitative"}, "color": {"field": "g", "type": "nominal"}}},
      {"transform": [{"filter": "datum.s == 'R'"}],
       "mark": {"type": "point", "filled": true, "shape": "triangle-up", "size": 16, "opacity": 1},
       "encoding": {"x": {"field": "c", "type": "nominal", "bandPosition": 0.7, "sort": ["AcP13/N237C/N347W","D237C/D347W","PaC5/E355C","E355C"]}, "y": {"field": "v", "type": "quantitative"}, "color": {"field": "g", "type": "nominal"}}},
      {"data": {"values": [{}]},
       "mark": {"type": "rule", "strokeDash": [2, 1.5], "strokeWidth": 1.5, "color": "#111111"},
       "encoding": {"y": {"datum": 0, "type": "quantitative"}}},
      {"data": {"values": [
         {"c":"AcP13/N237C/N347W","g":"db","m":32,"hi":63},
         {"c":"D237C/D347W","g":"lb","m":-210,"hi":-181},
         {"c":"PaC5/E355C","g":"db","m":-37,"hi":-6},
         {"c":"E355C","g":"lb","m":-216,"hi":-181}
       ]},
       "mark": {"type": "rule", "strokeWidth": 2},
       "encoding": {"x": {"field": "c", "type": "nominal", "sort": ["AcP13/N237C/N347W","D237C/D347W","PaC5/E355C","E355C"]}, "y": {"field": "m", "type": "quantitative"}, "y2": {"field": "hi"}, "color": {"field": "g", "type": "nominal"}}},
      {"data": {"values": [
         {"c":"AcP13/N237C/N347W","g":"db","m":32,"hi":63},
         {"c":"D237C/D347W","g":"lb","m":-210,"hi":-181},
         {"c":"PaC5/E355C","g":"db","m":-37,"hi":-6},
         {"c":"E355C","g":"lb","m":-216,"hi":-181}
       ]},
       "mark": {"type": "tick", "size": 10, "thickness": 2},
       "encoding": {"x": {"field": "c", "type": "nominal", "sort": ["AcP13/N237C/N347W","D237C/D347W","PaC5/E355C","E355C"]}, "y": {"field": "hi", "type": "quantitative"}, "color": {"field": "g", "type": "nominal"}}},
      {"data": {"values": [
         {"c":"AcP13/N237C/N347W","g":"db","m":32,"hi":63},
         {"c":"D237C/D347W","g":"lb","m":-210,"hi":-181},
         {"c":"PaC5/E355C","g":"db","m":-37,"hi":-6},
         {"c":"E355C","g":"lb","m":-216,"hi":-181}
       ]},
       "mark": {"type": "tick", "size": 20, "thickness": 2},
       "encoding": {"x": {"field": "c", "type": "nominal", "sort": ["AcP13/N237C/N347W","D237C/D347W","PaC5/E355C","E355C"]}, "y": {"field": "m", "type": "quantitative"}, "color": {"field": "g", "type": "nominal"}}},
      {"data": {"values": [
         {"b":1,"o":1,"c":"AcP13/N237C/N347W","y":152,"g":"k"},{"b":1,"o":2,"c":"AcP13/N237C/N347W","y":162,"g":"k"},{"b":1,"o":3,"c":"D237C/D347W","y":162,"g":"k"},{"b":1,"o":4,"c":"D237C/D347W","y":152,"g":"k"}
       ]},
       "mark": {"type": "line", "strokeWidth": 1.4},
       "encoding": {"x": {"field": "c", "type": "nominal", "sort": ["AcP13/N237C/N347W","D237C/D347W","PaC5/E355C","E355C"]}, "y": {"field": "y", "type": "quantitative"}, "order": {"field": "o", "type": "quantitative"}, "detail": {"field": "b", "type": "nominal"}, "color": {"field": "g", "type": "nominal"}}},
      {"data": {"values": [{"c":"AcP13/N237C/N347W","y":162,"t":"**","g":"k"}]},
       "mark": {"type": "text", "fontSize": 13, "baseline": "alphabetic"},
       "encoding": {"x": {"field": "c", "type": "nominal", "bandPosition": 1, "sort": ["AcP13/N237C/N347W","D237C/D347W","PaC5/E355C","E355C"]}, "y": {"field": "y", "type": "quantitative"}, "text": {"field": "t"}, "color": {"field": "g", "type": "nominal"}}}
  ]
}
],
"spacing": 163, "bounds": "flush",
"resolve": {"scale": {"color": "independent", "stroke": "independent"}, "legend": {"color": "independent", "stroke": "independent"}}
}
],
"spacing": 174, "bounds": "flush",
"resolve": {"scale": {"color": "independent", "stroke": "independent"}, "legend": {"color": "independent", "stroke": "independent"}}
}
],
"spacing": 13, "bounds": "flush",
"resolve": {"scale": {"color": "independent", "stroke": "independent"}, "legend": {"color": "independent", "stroke": "independent"}}
}
]
}
